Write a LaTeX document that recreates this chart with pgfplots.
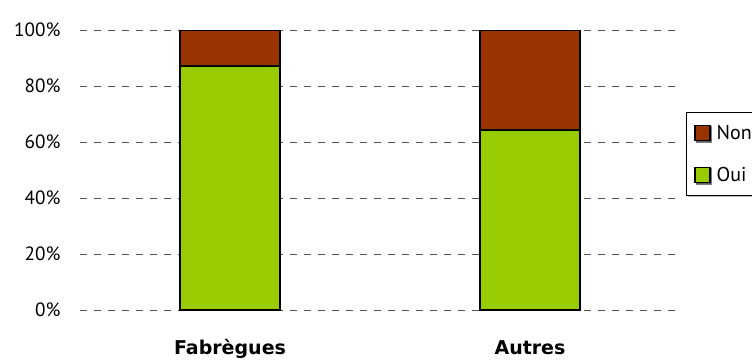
\documentclass[border=0pt]{standalone}
\usepackage{pgfplots}
\pgfplotsset{compat=1.18}
\usepackage{fontspec}
\setmainfont{PT Sans}
\newfontfamily\catfont{DejaVu Sans}
\usetikzlibrary{shadows}
\definecolor{oui}{HTML}{99CC00}
\definecolor{non}{HTML}{993300}
\definecolor{gridgray}{HTML}{555555}

\begin{document}
\begin{tikzpicture}[x=1pt,y=1pt]
\path[use as bounding box] (0,0) rectangle (752,360);
\begin{axis}[
  at={(80pt,50pt)}, anchor=south west,
  scale only axis, width=600pt, height=280pt,
  xmin=-0.5, xmax=1.5, ymin=0, ymax=100,
  ybar stacked, bar width=100pt,
  axis line style={draw=none},
  major tick style={draw=none},
  ymajorgrids,
  grid style={gridgray, line width=0.8pt, dash pattern=on 7pt off 7pt},
  ytick={0,20,40,60,80,100},
  yticklabel={\pgfmathprintnumber{\tick}\%},
  yticklabel style={anchor=east, xshift=-16pt, font=\fontsize{19.2}{21}\selectfont},
  xtick={0,1},
  xticklabels={Fabrègues,Autres},
  xticklabel style={anchor=base, yshift=-44pt, font=\catfont\fontsize{19}{21}\selectfont\bfseries},
  /pgf/number format/assume math mode=true,
  legend cell align=left,
  reverse legend,
  legend style={at={(1.0095,0.7071)}, anchor=north west,
    draw=black, fill=white, line width=0.8pt,
    drop shadow={shadow xshift=1.5pt, shadow yshift=-1.5pt, fill=gray},
    font=\fontsize{20}{22}\selectfont,
    row sep=22pt, inner xsep=8pt, inner ysep=11pt},
  legend image code/.code={%
    \draw[#1, line width=1.4pt, draw=black] (0pt,-7.5pt) rectangle (15pt,7.5pt);
    \path (19pt,0pt);},
]
\addplot[fill=oui, draw=black, line width=1.6pt] coordinates {(0,87.1) (1,64.3)};
\addplot[fill=non, draw=black, line width=1.6pt] coordinates {(0,12.9) (1,35.7)};
\legend{Oui,Non}
\end{axis}
\end{tikzpicture}
\end{document}
